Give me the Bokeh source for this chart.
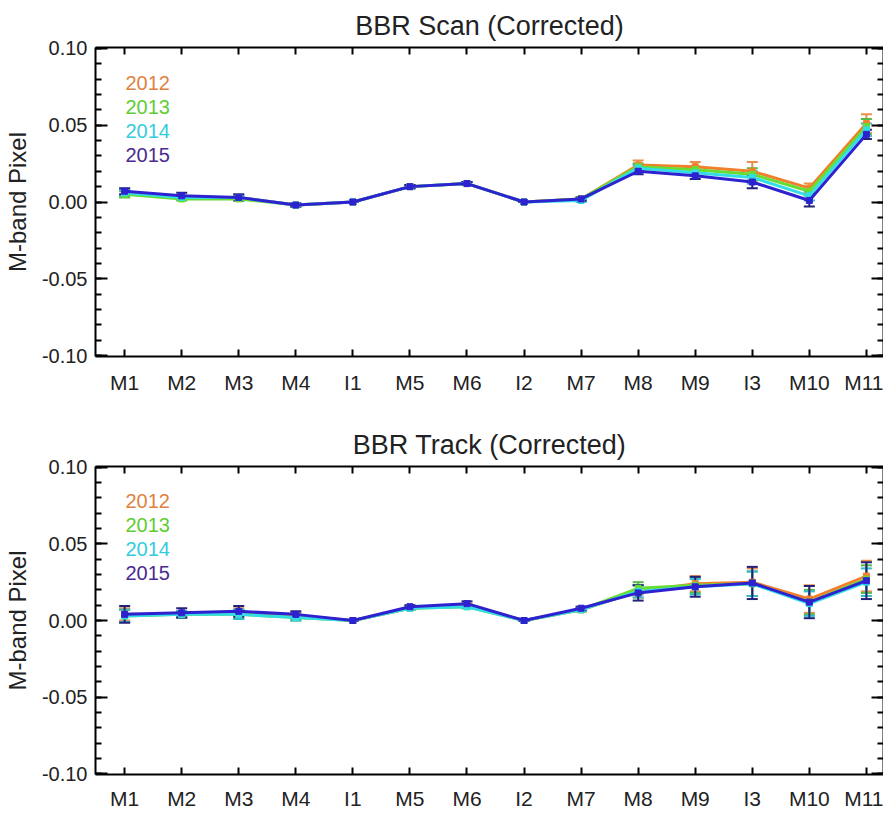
from bokeh.plotting import figure
from bokeh.layouts import column
from bokeh.models import (ColumnDataSource, Range1d, FixedTicker, SingleIntervalTicker,
                          LinearAxis, Whisker, TeeHead, Label, PrintfTickFormatter,
                          CustomLabelingPolicy)
from bokeh.embed import file_html
from bokeh.resources import INLINE

bands = ["M1", "M2", "M3", "M4", "I1", "M5", "M6", "I2", "M7", "M8", "M9", "I3", "M10", "M11"]
years = ["2012", "2013", "2014", "2015"]

# BBR Scan (Corrected)
scan_2012 = [0.006, 0.003, 0.003, -0.002, 0.0, 0.010, 0.012, 0.0, 0.002, 0.024, 0.023, 0.020, 0.009, 0.051]
scan_2013 = [0.005, 0.002, 0.002, -0.002, 0.0, 0.010, 0.012, 0.0, 0.002, 0.023, 0.021, 0.018, 0.007, 0.049]
scan_2014 = [0.006, 0.003, 0.003, -0.002, 0.0, 0.010, 0.012, 0.0, 0.001, 0.022, 0.019, 0.016, 0.004, 0.047]
scan_2015 = [0.007, 0.004, 0.003, -0.002, 0.0, 0.010, 0.012, 0.0, 0.002, 0.020, 0.017, 0.013, 0.001, 0.044]
scan_err_2012 = [0.002, 0.001, 0.001, 0.001, 0.0, 0.001, 0.001, 0.0, 0.001, 0.003, 0.003, 0.006, 0.003, 0.006]
scan_err_2013 = [0.002, 0.001, 0.001, 0.001, 0.0, 0.001, 0.001, 0.0, 0.001, 0.002, 0.002, 0.004, 0.003, 0.005]
scan_err_2014 = [0.002, 0.001, 0.001, 0.001, 0.0, 0.001, 0.001, 0.0, 0.001, 0.002, 0.002, 0.004, 0.003, 0.004]
scan_err_2015 = [0.002, 0.002, 0.002, 0.001, 0.0, 0.001, 0.001, 0.0, 0.001, 0.002, 0.002, 0.004, 0.004, 0.003]

# BBR Track (Corrected)
track_2012 = [0.004, 0.004, 0.005, 0.003, 0.0, 0.008, 0.010, 0.0, 0.007, 0.019, 0.024, 0.025, 0.014, 0.029]
track_2013 = [0.003, 0.004, 0.004, 0.002, 0.0, 0.008, 0.009, 0.0, 0.007, 0.021, 0.023, 0.024, 0.012, 0.027]
track_2014 = [0.003, 0.004, 0.004, 0.002, 0.0, 0.008, 0.009, 0.0, 0.007, 0.019, 0.022, 0.024, 0.011, 0.025]
track_2015 = [0.004, 0.005, 0.006, 0.004, 0.0, 0.009, 0.011, 0.0, 0.008, 0.018, 0.022, 0.0245, 0.012, 0.026]
track_err_2012 = [0.004, 0.002, 0.003, 0.002, 0.0, 0.001, 0.001, 0.0, 0.001, 0.004, 0.005, 0.009, 0.009, 0.010]
track_err_2013 = [0.004, 0.002, 0.003, 0.002, 0.0, 0.001, 0.001, 0.0, 0.001, 0.004, 0.005, 0.008, 0.008, 0.009]
track_err_2014 = [0.004, 0.002, 0.003, 0.002, 0.0, 0.001, 0.001, 0.0, 0.001, 0.004, 0.005, 0.008, 0.008, 0.009]
track_err_2015 = [0.0055, 0.003, 0.0035, 0.002, 0.0, 0.001, 0.0015, 0.0, 0.001, 0.005, 0.0065, 0.0105, 0.0105, 0.012]

line_colors = ["#F0802C", "#66DD33", "#33DDE6", "#2E22D0"]
err_colors = ["#E8904A", "#55BB44", "#33BBCC", "#22227A"]
text_colors = ["#E0823F", "#5FCC33", "#33CCDD", "#4A2A90"]

FONT = "Liberation Sans"
xs = list(range(1, len(bands) + 1))

HIDE_ALL = """
for (const i of Array.from(indices)) { indices.unset(i) }
return indices
"""


def make_panel(title, series, errs, height, border_top, border_bottom, xstand):
    p = figure(width=883, height=height, output_backend="svg", toolbar_location=None,
               x_range=Range1d(0.489, 14.30), y_range=Range1d(-0.1005, 0.1005),
               min_border_left=90, min_border_right=0, min_border_top=border_top,
               min_border_bottom=border_bottom, background_fill_color="white",
               border_fill_color="white", outline_line_color=None)
    p.grid.visible = False
    p.title.text = title
    p.title.align = "center"
    p.title.offset = 6
    p.title.text_font = FONT
    p.title.text_font_size = "27px"
    p.title.text_font_style = "normal"
    p.title.text_color = "#222222"
    p.title.standoff = 14

    xa = p.xaxis[0]
    xa.ticker = FixedTicker(ticks=xs)
    xa.major_label_overrides = {i: b for i, b in zip(xs, bands)}
    xa.major_tick_in = 7
    xa.major_tick_out = 0
    xa.minor_tick_line_color = None
    xa.axis_line_width = 2
    xa.major_tick_line_width = 2
    xa.major_label_text_font = FONT
    xa.major_label_text_font_size = "21px"
    xa.major_label_text_color = "#222222"
    xa.major_label_standoff = xstand

    ya = p.yaxis[0]
    ya.ticker = SingleIntervalTicker(interval=0.05, num_minor_ticks=5)
    ya.formatter = PrintfTickFormatter(format="%.2f")
    ya.major_tick_in = 12
    ya.major_tick_out = 0
    ya.minor_tick_in = 6
    ya.minor_tick_out = 0
    ya.axis_line_width = 2
    ya.major_tick_line_width = 2
    ya.minor_tick_line_width = 2
    ya.major_label_text_font = FONT
    ya.major_label_text_font_size = "20px"
    ya.major_label_text_color = "#222222"
    ya.major_label_standoff = 8
    ya.axis_label = "M-band Pixel"
    ya.axis_label_text_font = FONT
    ya.axis_label_text_font_size = "24px"
    ya.axis_label_text_font_style = "normal"
    ya.axis_label_text_color = "#222222"
    ya.axis_label_standoff = 8

    top = LinearAxis(ticker=FixedTicker(ticks=xs), major_tick_in=7, major_tick_out=0,
                     minor_tick_line_color=None, axis_line_width=2, major_tick_line_width=2,
                     major_label_text_font_size="0px", major_label_standoff=0,
                     major_label_policy=CustomLabelingPolicy(code=HIDE_ALL))
    p.add_layout(top, "above")
    right = LinearAxis(ticker=SingleIntervalTicker(interval=0.05, num_minor_ticks=5),
                       major_tick_in=12, major_tick_out=0, minor_tick_in=6, minor_tick_out=0,
                       axis_line_width=2, major_tick_line_width=2, minor_tick_line_width=2,
                       major_label_text_font_size="0px", major_label_standoff=0,
                       major_label_policy=CustomLabelingPolicy(code=HIDE_ALL))
    p.add_layout(right, "right")

    for k, (vals, ev) in enumerate(zip(series, errs)):
        src = ColumnDataSource(dict(x=xs, y=vals,
                                    lo=[v - e for v, e in zip(vals, ev)],
                                    hi=[v + e for v, e in zip(vals, ev)]))
        w = Whisker(source=src, base="x", upper="hi", lower="lo",
                    line_color=err_colors[k], line_width=2,
                    upper_head=TeeHead(size=11, line_color=err_colors[k], line_width=2),
                    lower_head=TeeHead(size=11, line_color=err_colors[k], line_width=2))
        p.add_layout(w)
        p.line("x", "y", source=src, line_color=line_colors[k], line_width=3)
        p.scatter("x", "y", source=src, marker="square", size=6,
                  fill_color=line_colors[k], line_color=line_colors[k])

    for k, yr in enumerate(years):
        p.add_layout(Label(x=30, y=274 - 24 * k, x_units="screen", y_units="screen",
                           text=yr, text_font=FONT, text_font_size="20px",
                           text_color=text_colors[k], text_baseline="middle"))
    return p


p1 = make_panel("BBR Scan (Corrected)", [scan_2012, scan_2013, scan_2014, scan_2015],
                [scan_err_2012, scan_err_2013, scan_err_2014, scan_err_2015], 408, 47, 52, 14)
p2 = make_panel("BBR Track (Corrected)", [track_2012, track_2013, track_2014, track_2015],
                [track_err_2012, track_err_2013, track_err_2014, track_err_2015], 404, 58, 36, 12)

layout = column(p1, p2)
open("out.html", "w").write(file_html(layout, INLINE))
